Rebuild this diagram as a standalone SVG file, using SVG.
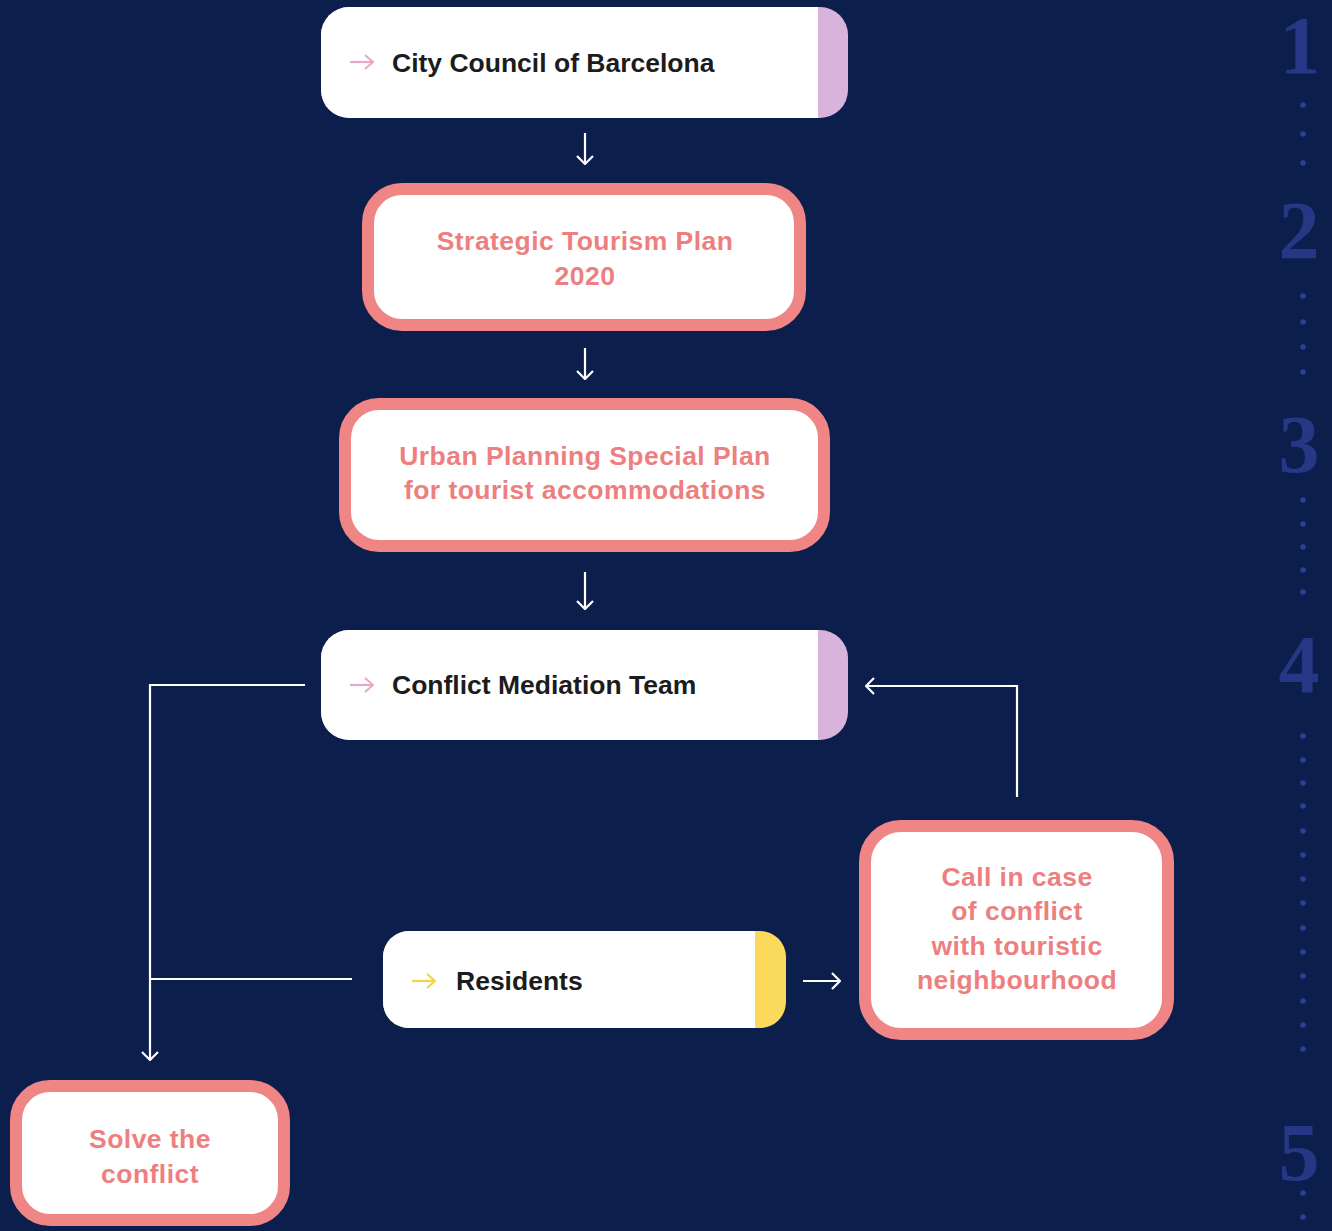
<svg xmlns="http://www.w3.org/2000/svg" width="1332" height="1231" viewBox="0 0 1332 1231">
<style>
.bg{fill:#0c1e4c}
.white{fill:#ffffff}
.pill{fill:#ffffff;stroke:#f08585;stroke-width:12}
.dark{font-family:"Liberation Sans",Arial,sans-serif;font-weight:700;font-size:26.5px;fill:#1c1c1c}
.pink{font-family:"Liberation Sans",Arial,sans-serif;font-weight:700;font-size:26.5px;letter-spacing:0.45px;fill:#ee7f80;text-anchor:middle}
.conn{fill:none;stroke:#ffffff;stroke-width:2.2}
.num{font-family:"Liberation Serif","DejaVu Serif",serif;font-weight:700;font-size:82px;fill:#283785;text-anchor:middle}
.dot{fill:#303f93}
</style>
<defs>
<marker id="ah" viewBox="0 0 10 18" refX="9" refY="9" markerWidth="10" markerHeight="18" markerUnits="userSpaceOnUse" orient="auto">
<path d="M1,1 L9,9 L1,17" fill="none" stroke="#ffffff" stroke-width="2.2"/>
</marker>
<marker id="ahl" viewBox="0 0 10 16" refX="9" refY="8" markerWidth="10" markerHeight="16" markerUnits="userSpaceOnUse" orient="auto">
<path d="M1,1 L9,8 L1,15" fill="none" stroke="#e7a9cb" stroke-width="2.2"/>
</marker>
<marker id="ahy" viewBox="0 0 10 16" refX="9" refY="8" markerWidth="10" markerHeight="16" markerUnits="userSpaceOnUse" orient="auto">
<path d="M1,1 L9,8 L1,15" fill="none" stroke="#f6d24a" stroke-width="2.2"/>
</marker>
</defs>
<rect class="bg" x="0" y="0" width="1332" height="1231"/>

<g id="steps">
<text class="num" x="1300" y="73">1</text>
<text class="num" x="1299" y="258">2</text>
<text class="num" x="1299" y="472">3</text>
<text class="num" x="1299" y="692">4</text>
<text class="num" x="1299" y="1180">5</text>
<circle class="dot" cx="1303" cy="105" r="2.8"/><circle class="dot" cx="1303" cy="134" r="2.8"/><circle class="dot" cx="1303" cy="163" r="2.8"/>
<circle class="dot" cx="1303" cy="296" r="2.8"/><circle class="dot" cx="1303" cy="322" r="2.8"/><circle class="dot" cx="1303" cy="347" r="2.8"/><circle class="dot" cx="1303" cy="372" r="2.8"/>
<circle class="dot" cx="1303" cy="500" r="2.8"/><circle class="dot" cx="1303" cy="524" r="2.8"/><circle class="dot" cx="1303" cy="547" r="2.8"/><circle class="dot" cx="1303" cy="570" r="2.8"/><circle class="dot" cx="1303" cy="592" r="2.8"/>
<circle class="dot" cx="1303" cy="736" r="2.8"/><circle class="dot" cx="1303" cy="760" r="2.8"/><circle class="dot" cx="1303" cy="783" r="2.8"/><circle class="dot" cx="1303" cy="806" r="2.8"/><circle class="dot" cx="1303" cy="831" r="2.8"/><circle class="dot" cx="1303" cy="855" r="2.8"/><circle class="dot" cx="1303" cy="879" r="2.8"/><circle class="dot" cx="1303" cy="903" r="2.8"/><circle class="dot" cx="1303" cy="928" r="2.8"/><circle class="dot" cx="1303" cy="952" r="2.8"/><circle class="dot" cx="1303" cy="976" r="2.8"/><circle class="dot" cx="1303" cy="1001" r="2.8"/><circle class="dot" cx="1303" cy="1025" r="2.8"/><circle class="dot" cx="1303" cy="1049" r="2.8"/>
<circle class="dot" cx="1303" cy="1193" r="2.8"/><circle class="dot" cx="1303" cy="1217" r="2.8"/>
</g>

<g id="connectors">
<path class="conn" d="M585,133 V164" marker-end="url(#ah)"/>
<path class="conn" d="M585,348 V379" marker-end="url(#ah)"/>
<path class="conn" d="M585,572 V609" marker-end="url(#ah)"/>
<path class="conn" d="M305,685 H150 V1060" marker-end="url(#ah)"/>
<path class="conn" d="M352,979 H150"/>
<path class="conn" d="M1017,797 V686 H866" marker-end="url(#ah)"/>
<path class="conn" d="M803,981 H840" marker-end="url(#ah)"/>
</g>

<g id="city-council">
<rect x="321" y="7" width="527" height="111" rx="28" fill="#d8b3dc"/>
<path class="white" d="M818,7 H349 A28,28 0 0 0 321,35 V90 A28,28 0 0 0 349,118 H818 Z"/>
<path d="M350,62 H373" fill="none" stroke="#e7a9cb" stroke-width="2.2" marker-end="url(#ahl)"/>
<text class="dark" x="392" y="72">City Council of Barcelona</text>
</g>

<g id="strategic-plan">
<rect class="pill" x="368" y="189" width="432" height="136" rx="34"/>
<text class="pink" x="585" y="250">Strategic Tourism Plan</text>
<text class="pink" x="585" y="285">2020</text>
</g>

<g id="urban-plan">
<rect class="pill" x="345" y="404" width="479" height="142" rx="34"/>
<text class="pink" x="585" y="465">Urban Planning Special Plan</text>
<text class="pink" x="585" y="499">for tourist accommodations</text>
</g>

<g id="mediation-team">
<rect x="321" y="630" width="527" height="110" rx="28" fill="#d8b3dc"/>
<path class="white" d="M818,630 H349 A28,28 0 0 0 321,658 V712 A28,28 0 0 0 349,740 H818 Z"/>
<path d="M350,685 H373" fill="none" stroke="#e7a9cb" stroke-width="2.2" marker-end="url(#ahl)"/>
<text class="dark" x="392" y="694">Conflict Mediation Team</text>
</g>

<g id="residents">
<rect x="383" y="931" width="403" height="97" rx="26" fill="#fbd95a"/>
<path class="white" d="M755,931 H409 A26,26 0 0 0 383,957 V1002 A26,26 0 0 0 409,1028 H755 Z"/>
<path d="M412,981 H435" fill="none" stroke="#f6d24a" stroke-width="2.2" marker-end="url(#ahy)"/>
<text class="dark" x="456" y="990">Residents</text>
</g>

<g id="call-conflict">
<rect class="pill" x="865" y="826" width="303" height="208" rx="36"/>
<text class="pink" x="1017" y="886">Call in case</text>
<text class="pink" x="1017" y="920">of conflict</text>
<text class="pink" x="1017" y="955">with touristic</text>
<text class="pink" x="1017" y="989">neighbourhood</text>
</g>

<g id="solve-conflict">
<rect class="pill" x="16" y="1086" width="268" height="134" rx="34"/>
<text class="pink" x="150" y="1148">Solve the</text>
<text class="pink" x="150" y="1183">conflict</text>
</g>
</svg>
